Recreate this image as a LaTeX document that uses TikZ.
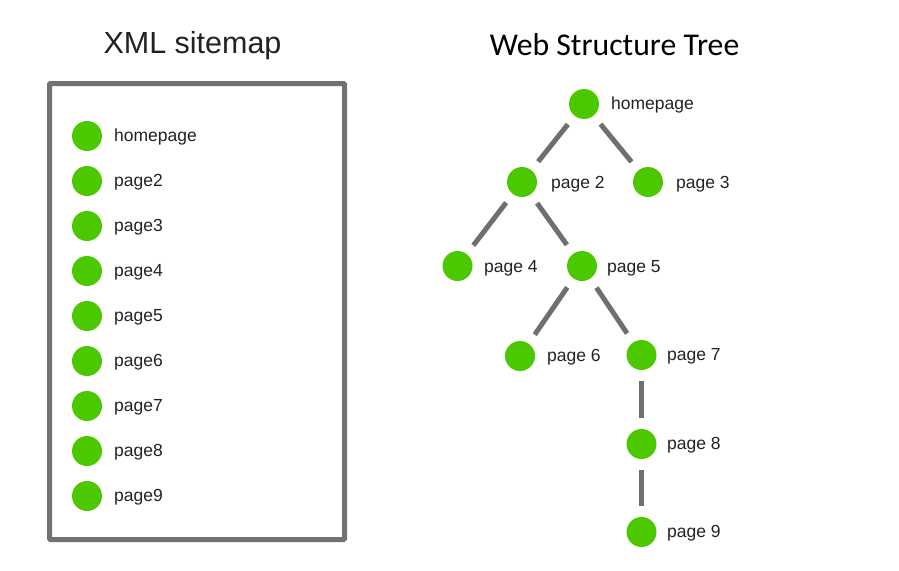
\documentclass[tikz,border=0pt]{standalone}
\usepackage{fontspec}
\setmainfont{Liberation Sans}
\newfontfamily\titlefont{Carlito}
\definecolor{pgreen}{HTML}{4CC800}
\definecolor{lgray}{HTML}{6F6F6F}
\definecolor{boxgray}{HTML}{727272}
\definecolor{txt}{HTML}{222222}
\begin{document}
\begin{tikzpicture}[x=1pt,y=-1pt,
  dot/.style={circle,fill=pgreen,minimum size=30pt,inner sep=0pt,outer sep=0pt},
  lbl/.style={anchor=base west,inner sep=0pt,font=\fontsize{17.5}{20}\selectfont,text=txt},
  link/.style={draw=lgray,line width=5pt,shorten >=11pt,shorten <=11pt}]
\useasboundingbox (0,0) rectangle (899,570);
% titles
\node[anchor=base,inner sep=0pt,text=txt,font=\fontsize{30.5}{34}\selectfont] (t1) at (192.5,53) {XML sitemap};
\node[anchor=base,inner sep=0pt,text=black,font=\titlefont\fontsize{31.7}{36}\selectfont] (t2) at (614.5,55) {Web Structure Tree};
% box
\node[draw=boxgray,line width=5pt,rounded corners=1pt,minimum width=295pt,minimum height=456pt,inner sep=0pt] (box) at (197,311.5) {};
% list
\foreach \i/\t in {0/homepage,1/page2,2/page3,3/page4,4/page5,5/page6,6/page7,7/page8,8/page9}{
  \node[dot] (l\i) at (87,136+45*\i) {};
  \node[lbl] (lt\i) at (114,141.5+45*\i) {\t};
}
% tree
\node[dot] (h) at (584,104) {};
\node[dot] (p2) at (522,182) {};
\node[dot] (p3) at (648,182) {};
\node[dot] (p4) at (457.5,266) {};
\node[dot] (p5) at (582,266) {};
\node[dot] (p6) at (520,356) {};
\node[dot] (p7) at (641.5,355) {};
\node[dot] (p8) at (641.5,444) {};
\node[dot] (p9) at (641.5,532) {};
\node[lbl] (hl) at (611,109.5) {homepage};
\node[lbl] (p2l) at (551,188.5) {page 2};
\node[lbl] (p3l) at (676,188.5) {page 3};
\node[lbl] (p4l) at (484,272) {page 4};
\node[lbl] (p5l) at (607,272) {page 5};
\node[lbl] (p6l) at (547,361) {page 6};
\node[lbl] (p7l) at (667,360.5) {page 7};
\node[lbl] (p8l) at (667,449.5) {page 8};
\node[lbl] (p9l) at (667,537.5) {page 9};
\draw[link] (h) -- (p2);
\draw[link] (h) -- (p3);
\draw[link] (p2) -- (p4);
\draw[link] (p2) -- (p5);
\draw[link] (p5) -- (p6);
\draw[link] (p5) -- (p7);
\draw[link] (p7) -- (p8);
\draw[link] (p8) -- (p9);
\end{tikzpicture}
\end{document}
